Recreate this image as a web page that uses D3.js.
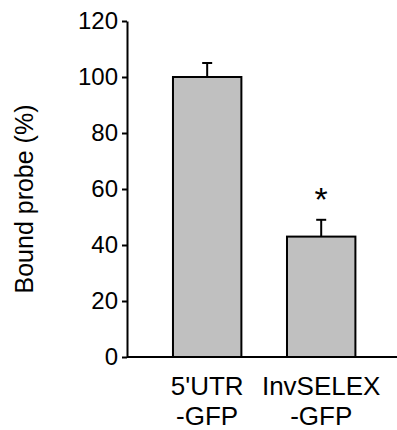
<!DOCTYPE html>
<html>
<head>
<meta charset="utf-8">
<script src="https://cdn.jsdelivr.net/npm/d3@7"></script>
<style>
  html, body { margin: 0; padding: 0; background: #fff; }
  text { font-family: "Liberation Sans", Arial, sans-serif; fill: #000; }
</style>
</head>
<body>
<div id="chart"></div>
<script>
// values
const categories = ["5'UTR-GFP", "InvSELEX-GFP"];
const labelLines = [["5'UTR", "-GFP"], ["InvSELEX", "-GFP"]];
const bound = [100, 43];
const errors = [5, 6];
const significant = [false, true];
const yTicks = [0, 20, 40, 60, 80, 100, 120];

const width = 397;
const height = 430;
const margin = { top: 21, right: 0, bottom: 73, left: 127 };

const svg = d3.select('#chart')
  .append('svg')
  .attr('width', width)
  .attr('height', height);

const y = d3.scaleLinear()
  .domain([0, 120])
  .range([height - margin.bottom, margin.top]);

const x = d3.scaleBand()
  .domain(categories)
  .range([margin.left, width - margin.right])
  .paddingInner(0.4)
  .paddingOuter(0.384)
  .align(0.525);

const data = categories.map((c, i) => ({
  cat: c, value: bound[i], err: errors[i], star: significant[i], lines: labelLines[i]
}));

// bars
svg.selectAll('rect.bar')
  .data(data)
  .enter()
  .append('rect')
  .attr('class', 'bar')
  .attr('x', d => x(d.cat))
  .attr('y', d => y(d.value))
  .attr('width', x.bandwidth())
  .attr('height', d => y(0) - y(d.value))
  .attr('fill', '#c0c0c0')
  .attr('stroke', '#000')
  .attr('stroke-width', 2);

// error bars (upper half only)
const cap = 5;
const eb = svg.selectAll('g.err')
  .data(data)
  .enter()
  .append('g')
  .attr('class', 'err')
  .attr('stroke', '#000')
  .attr('stroke-width', 2);

eb.append('line')
  .attr('x1', d => x(d.cat) + x.bandwidth() / 2)
  .attr('x2', d => x(d.cat) + x.bandwidth() / 2)
  .attr('y1', d => y(d.value))
  .attr('y2', d => y(d.value + d.err));

eb.append('line')
  .attr('x1', d => x(d.cat) + x.bandwidth() / 2 - cap)
  .attr('x2', d => x(d.cat) + x.bandwidth() / 2 + cap)
  .attr('y1', d => y(d.value + d.err))
  .attr('y2', d => y(d.value + d.err));

// significance marker
svg.selectAll('text.star')
  .data(data.filter(d => d.star))
  .enter()
  .append('text')
  .attr('class', 'star')
  .attr('x', d => x(d.cat) + x.bandwidth() / 2)
  .attr('y', d => y(d.value + d.err) - 9)
  .attr('text-anchor', 'middle')
  .attr('font-size', 34)
  .text('*');

// y axis
const yAxis = d3.axisLeft(y)
  .tickValues(yTicks)
  .tickSize(5)
  .tickSizeOuter(0)
  .tickPadding(4);

const yg = svg.append('g')
  .attr('transform', `translate(${margin.left},0)`)
  .call(yAxis);
yg.select('.domain').attr('stroke-width', 2);
yg.selectAll('.tick line').attr('stroke-width', 2);
yg.selectAll('.tick text')
  .attr('font-size', 24)
  .attr('font-family', '"Liberation Sans", Arial, sans-serif');

// x axis baseline
svg.append('line')
  .attr('x1', x.range()[0])
  .attr('x2', x.range()[1])
  .attr('y1', y(0))
  .attr('y2', y(0))
  .attr('stroke', '#000')
  .attr('stroke-width', 2);

// category labels, two lines each
const lab = svg.selectAll('text.cat')
  .data(data)
  .enter()
  .append('text')
  .attr('class', 'cat')
  .attr('text-anchor', 'middle')
  .attr('font-size', 26);

lab.selectAll('tspan')
  .data(d => d.lines.map(l => ({ l, cx: x(d.cat) + x.bandwidth() / 2 })))
  .enter()
  .append('tspan')
  .attr('x', t => t.cx)
  .attr('y', (t, i) => y(0) + 38 + i * 30)
  .text(t => t.l);

// y axis title
svg.append('text')
  .attr('transform', `translate(33,${(y(0) + y(120)) / 2 + 10}) rotate(-90)`)
  .attr('text-anchor', 'middle')
  .attr('font-size', 25)
  .text('Bound probe (%)');
</script>
</body>
</html>
